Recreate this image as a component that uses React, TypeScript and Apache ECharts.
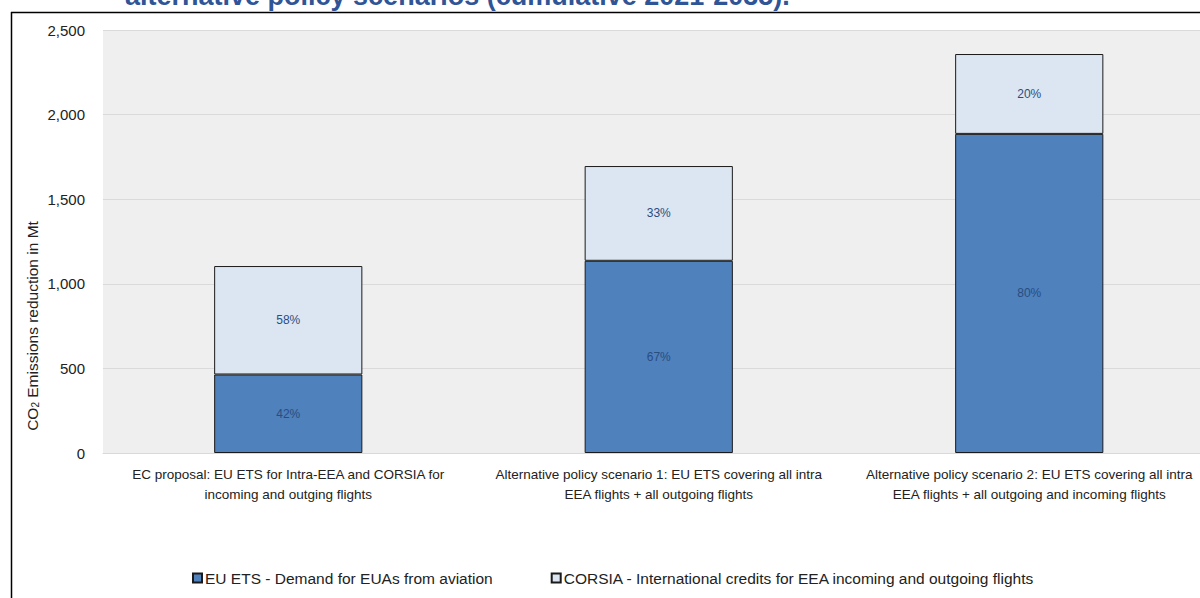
import React, { useEffect, useRef } from "react";
import * as echarts from "echarts";

const categories = [
  "EC proposal: EU ETS for Intra-EEA and CORSIA for\nincoming and outging flights",
  "Alternative policy scenario 1: EU ETS covering all intra\nEEA flights + all outgoing flights",
  "Alternative policy scenario 2: EU ETS covering all intra\nEEA flights + all outgoing and incoming flights",
];
const euEts = [464, 1136, 1886];
const corsia = [641, 560, 472];
const seriesNames = [
  "EU ETS - Demand for EUAs from aviation",
  "CORSIA - International credits for EEA incoming and outgoing flights",
];
const titleText = "alternative policy scenarios (cumulative 2021-2035).";

const FONT = "'Liberation Sans', Arial, sans-serif";

export default function App() {
  const ref = useRef<HTMLDivElement>(null);
  useEffect(() => {
    if (!ref.current) return;
    const chart = echarts.init(ref.current, null, { renderer: "svg" });
    const totals = euEts.map((v, i) => v + corsia[i]);
    const pct = (arr: number[]) => (p: any) =>
      Math.round((arr[p.dataIndex] / totals[p.dataIndex]) * 100) + "%";
    const labelStyle = {
      show: true,
      position: "inside",
      color: "#2a4d7f",
      fontSize: 12,
      fontFamily: FONT,
    };
    chart.setOption({
      animation: false,
      backgroundColor: "#ffffff",
      textStyle: { fontFamily: FONT },
      grid: {
        left: 103,
        right: 15.5,
        top: 30,
        bottom: 145,
        show: true,
        backgroundColor: "#efefef",
        borderWidth: 0,
      },
      legend: {
        bottom: 7,
        left: 187,
        itemGap: 58,
        icon: "rect",
        itemWidth: 9,
        itemHeight: 9,
        textStyle: { fontSize: 15.5, color: "#222", fontFamily: FONT, padding: [0, 0, 0, -2] },
        data: seriesNames,
      },
      xAxis: {
        type: "category",
        data: categories,
        axisTick: { show: false },
        axisLine: { show: true, lineStyle: { color: "#d9d9d9" } },
        axisLabel: {
          interval: 0,
          color: "#222",
          fontSize: 13.5,
          lineHeight: 20,
          margin: 11,
          fontFamily: FONT,
        },
      },
      yAxis: {
        type: "value",
        min: 0,
        max: 2500,
        interval: 500,
        axisLine: { show: false },
        axisTick: { show: false },
        splitLine: { lineStyle: { color: "#dadada", width: 1 } },
        axisLabel: {
          color: "#222",
          fontSize: 15,
          margin: 18,
          fontFamily: FONT,
          formatter: (v: number) => v.toLocaleString("en-US"),
        },
      },
      series: [
        {
          name: seriesNames[0],
          type: "bar",
          stack: "s",
          barWidth: "40%",
          data: euEts,
          itemStyle: { color: "#4f81bd", borderColor: "#1a1a1a", borderWidth: 1 },
          label: { ...labelStyle, formatter: pct(euEts) },
        },
        {
          name: seriesNames[1],
          type: "bar",
          stack: "s",
          barWidth: "40%",
          data: corsia,
          itemStyle: { color: "#dce6f2", borderColor: "#1a1a1a", borderWidth: 1 },
          label: { ...labelStyle, formatter: pct(corsia) },
        },
      ],
      graphic: [
        {
          type: "text",
          x: 125,
          y: 9,
          style: {
            text: titleText,
            font: "bold 27px " + FONT,
            fill: "#2f5597",
            textAlign: "left",
            textVerticalAlign: "bottom",
          },
        },
        {
          type: "line",
          shape: { x1: 11, y1: 12.5, x2: 1230, y2: 12.5 },
          style: { stroke: "#000", lineWidth: 1.5 },
        },
        {
          type: "line",
          shape: { x1: 11.5, y1: 12, x2: 11.5, y2: 598 },
          style: { stroke: "#000", lineWidth: 1.5 },
        },
        {
          type: "text",
          x: 32,
          y: 326,
          rotation: Math.PI / 2,
          style: {
            text: "CO{sub|2} Emissions reduction in Mt",
            font: "15.5px " + FONT,
            fill: "#222",
            textAlign: "center",
            textVerticalAlign: "middle",
            rich: {
              sub: { fontSize: 10, verticalAlign: "bottom", padding: [7, 0, 0, 0] },
            },
          },
        },
      ],
    });
    return () => chart.dispose();
  }, []);
  return (
    <div
      style={{
        position: "fixed",
        left: 0,
        top: 0,
        width: 1200,
        height: 598,
        overflow: "hidden",
        background: "#fff",
      }}
    >
      <div ref={ref} style={{ width: 1230, height: 598 }} />
    </div>
  );
}
